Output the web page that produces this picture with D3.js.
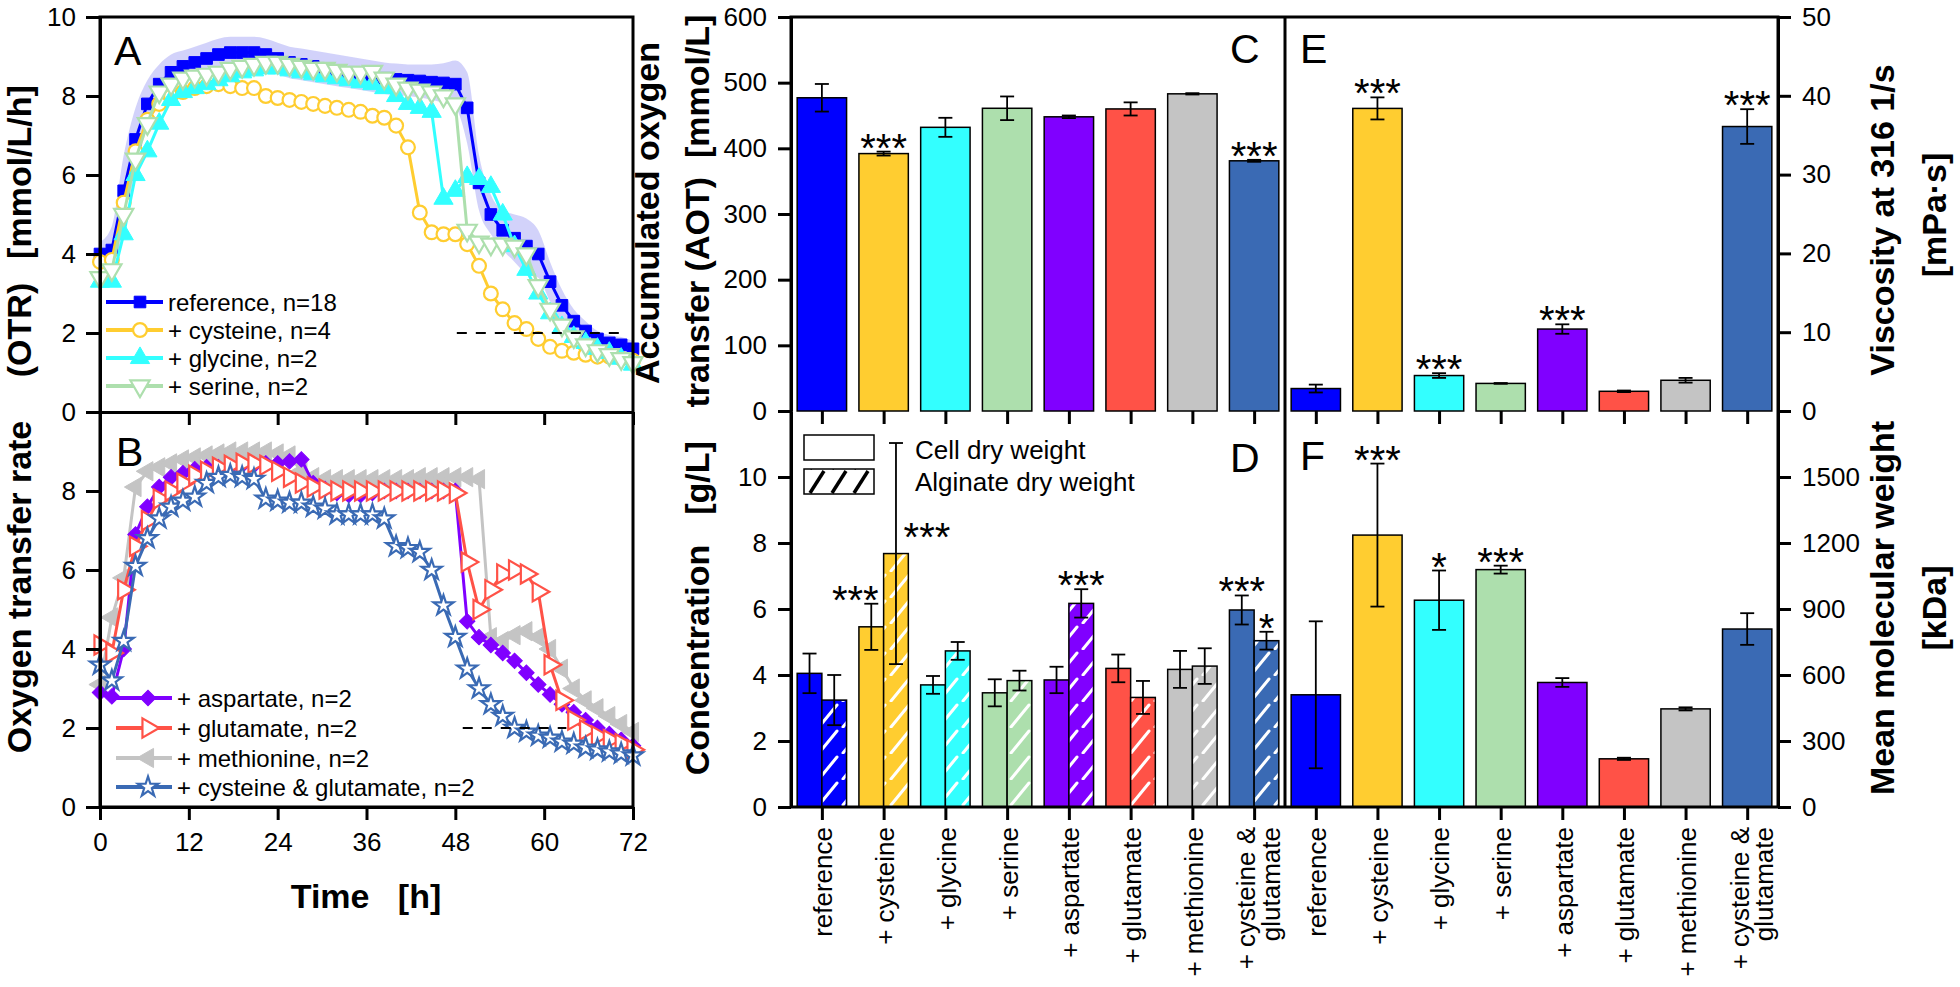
<!DOCTYPE html>
<html><head><meta charset="utf-8">
<script src="https://cdn.jsdelivr.net/npm/d3@7"></script>
<style>html,body{margin:0;padding:0;background:#fff;}svg{display:block;}</style>
</head><body>
<svg id="chart" width="1960" height="987"></svg>
<script>
// ---------------- DATA ----------------
const timeH = [0,1.6,3.2,4.8,6.4,8,9.6,11.2,12.8,14.4,16,17.6,19.2,20.8,22.4,24,25.6,27.2,28.8,30.4,32,33.6,35.2,36.8,38.4,40,41.6,43.2,44.8,46.4,48,49.6,51.2,52.8,54.4,56,57.6,59.2,60.8,62.4,64,65.6,67.2,68.8,70.4,72];
const timeTicks = [0,12,24,36,48,60,72];

const otrReference = [4.0,4.1,5.6,6.9,7.8,8.3,8.6,8.75,8.85,8.95, 9.05,9.1,9.1,9.1,9.05,8.95,8.85,8.8,8.75,8.7, 8.65,8.6,8.55,8.5,8.45,8.42,8.4,8.38,8.35,8.33, 8.3,7.7,5.8,5.0,4.6,4.4,4.2,4.0,3.3,2.7, 2.3,2.05,1.85,1.75,1.7,1.6];
const otrReferenceSd = [0.3,0.6,0.9,0.8,0.6,0.5,0.45,0.4,0.4,0.4, 0.4,0.4,0.4,0.4,0.4,0.4,0.4,0.4,0.4,0.4, 0.4,0.4,0.4,0.4,0.4,0.4,0.4,0.42,0.45,0.5, 0.6,0.9,0.7,0.5,0.5,0.6,0.7,0.6,0.5,0.4, 0.3,0.25,0.2,0.2,0.2,0.2];
const otrCysteine = [3.8,3.85,5.3,6.6,7.4,7.8,8.0,8.1,8.2,8.25, 8.3,8.25,8.2,8.2,8.0,7.95,7.9,7.85,7.8,7.75, 7.7,7.65,7.6,7.5,7.45,7.25,6.7,5.05,4.55,4.5, 4.5,4.25,3.7,3.0,2.6,2.25,2.1,1.85,1.65,1.55, 1.5,1.45,1.4,1.4,1.35,1.3];
const otrGlycine = [3.3,3.3,4.5,6.0,6.6,7.3,7.9,8.1,8.2,8.3, 8.4,8.5,8.6,8.65,8.7,8.7,8.65,8.6,8.55,8.5, 8.45,8.4,8.35,8.3,8.2,8.0,7.8,7.7,7.6,5.4, 5.6,5.95,5.9,5.7,5.0,4.2,3.6,3.0,2.5,2.15, 1.9,1.75,1.6,1.5,1.35,1.2];
const otrSerine = [3.4,3.6,5.0,6.4,7.3,8.1,8.3,8.45,8.5,8.55, 8.6,8.7,8.75,8.8,8.85,8.85,8.8,8.75,8.7,8.7, 8.65,8.6,8.6,8.62,8.45,8.3,8.2,8.15,8.1,8.0, 7.8,4.6,4.3,4.25,4.25,4.2,4.0,3.2,2.6,2.2, 1.9,1.7,1.55,1.45,1.35,1.25];

const otrAspartate = [2.9,2.8,4.0,6.9,7.6,8.1,8.35,8.45,8.55,8.6, 8.6,8.6,8.65,8.65,8.7,8.7,8.75,8.8,8.2,8.05, 7.95,7.9,7.9,7.95,8.0,8.0,8.0,8.0,8.0,8.0, 8.0,4.7,4.3,4.1,3.9,3.7,3.4,3.1,2.85,2.6, 2.4,2.2,2.0,1.85,1.7,1.55];
const otrGlutamate = [4.1,3.9,5.5,6.6,7.25,7.8,8.0,8.2,8.4,8.5, 8.6,8.65,8.7,8.7,8.65,8.5,8.35,8.2,8.1,8.05, 8.0,8.0,8.0,8.0,8.0,8.0,8.0,8.0,8.0,8.0, 7.95,6.2,5.0,5.5,5.9,6.0,5.9,5.45,3.6,2.7, 2.2,1.95,1.8,1.7,1.6,1.45];
const otrMethionine = [3.1,4.8,5.8,8.1,8.5,8.6,8.7,8.8,8.85,8.9, 8.95,9.0,9.0,9.0,9.0,8.95,8.9,8.5,8.35,8.3, 8.3,8.3,8.3,8.3,8.3,8.3,8.3,8.35,8.35,8.35, 8.35,8.35,8.3,4.3,4.2,4.35,4.45,4.3,4.0,3.5, 3.0,2.7,2.5,2.3,2.1,1.9];
const otrCysGlu = [3.6,3.2,4.2,6.1,6.8,7.3,7.6,7.75,7.85,8.2, 8.35,8.4,8.35,8.3,7.8,7.75,7.7,7.7,7.6,7.55, 7.4,7.4,7.4,7.4,7.3,6.6,6.55,6.45,6.0,5.1, 4.3,3.5,3.0,2.6,2.3,2.0,1.9,1.8,1.75,1.65, 1.6,1.5,1.45,1.4,1.35,1.3];

const dashedA = [48.2, 70.4];   // OTR = 2 reference line, panel A
const dashedB = [49.0, 63.0];   // panel B
const dashedLevel = 2;

const legendA = ["reference, n=18", "+ cysteine, n=4", "+ glycine, n=2", "+ serine, n=2"];
const legendB = ["+ aspartate, n=2", "+ glutamate, n=2", "+ methionine, n=2", "+ cysteine & glutamate, n=2"];

const categories = ["reference","+ cysteine","+ glycine","+ serine","+ aspartate","+ glutamate","+ methionine","+ cysteine & glutamate"];
const categoryLines = [["reference"],["+ cysteine"],["+ glycine"],["+ serine"],["+ aspartate"],["+ glutamate"],["+ methionine"],["+ cysteine &","glutamate"]];

const aotMean = [477, 392, 432, 461, 448, 460, 483, 381];
const aotErr  = [21, 3, 14.5, 18, 2, 10, 1, 1.5];
const aotSig  = ["", "***", "", "", "", "", "", "***"];

const viscMean = [2.85, 38.4, 4.5, 3.5, 10.4, 2.5, 3.9, 36.1];
const viscErr  = [0.5, 1.4, 0.3, 0.05, 0.6, 0.1, 0.3, 2.2];
const viscSig  = ["", "***", "***", "", "***", "", "", "***"];

const cdwMean = [4.05, 5.46, 3.70, 3.46, 3.85, 4.20, 4.17, 5.97];
const cdwErr  = [0.6, 0.7, 0.27, 0.41, 0.4, 0.42, 0.56, 0.44];
const cdwSig  = ["", "***", "", "", "", "", "", "***"];

const adwMean = [3.24, 7.68, 4.73, 3.83, 6.17, 3.32, 4.27, 5.04];
const adwErr  = [0.76, 3.35, 0.27, 0.30, 0.43, 0.5, 0.54, 0.27];
const adwSig  = ["", "***", "", "", "***", "", "", "*"];

const mwMean = [510, 1236, 940, 1079, 566, 219, 446, 809];
const mwErr  = [334, 325, 135, 18, 20, 5, 7, 72];
const mwSig  = ["", "***", "*", "***", "", "", "", ""];

const yTicksOTR_A = [0,2,4,6,8,10];
const yTicksOTR_B = [0,2,4,6,8];
const yTicksAOT = [0,100,200,300,400,500,600];
const yTicksVisc = [0,10,20,30,40,50];
const yTicksConc = [0,2,4,6,8,10];
const yTicksMW = [0,300,600,900,1200,1500];

// ---------------- STYLE ----------------
const FONT = '"Liberation Sans", Arial, Helvetica, sans-serif';
const colors = ["#0000ff","#ffcd30","#33ffff","#addfad","#8000ff","#ff5247","#c4c4c4","#3a6ab4"];

const svg = d3.select("#chart");
svg.append("rect").attr("width",1960).attr("height",987).attr("fill","#fff");
const defs = svg.append("defs");
const hw = defs.append("pattern").attr("id","hatchW").attr("patternUnits","userSpaceOnUse").attr("width",24).attr("height",26);
hw.append("line").attr("x1",3).attr("y1",25).attr("x2",21).attr("y2",3).attr("stroke","#fff").attr("stroke-width",3).attr("stroke-linecap","round");
const hk = defs.append("pattern").attr("id","hatchK").attr("patternUnits","userSpaceOnUse").attr("width",22).attr("height",24).attr("x",806).attr("y",470);
hk.append("line").attr("x1",4).attr("y1",23).attr("x2",18).attr("y2",1).attr("stroke","#000").attr("stroke-width",3.5);

// ---------------- SCALES ----------------
const xT = d3.scaleLinear().domain([0,72]).range([100,633]);
const yA = d3.scaleLinear().domain([0,10]).range([412,17]);
const yB = d3.scaleLinear().domain([0,10]).range([807,412]);
const xL = d3.scaleBand().domain(categories).range([791,1285]).paddingInner(0.2).paddingOuter(0.1);
const xR = d3.scaleBand().domain(categories).range([1285,1778]).paddingInner(0.2).paddingOuter(0.1);
const yC = d3.scaleLinear().domain([0,600]).range([411,17]);
const yE = d3.scaleLinear().domain([0,50]).range([411,17]);
const yD = d3.scaleLinear().domain([0,12]).range([807,411]);
const yF = d3.scaleLinear().domain([0,1800]).range([807,411]);

function styleAxis(g){
  g.select(".domain").attr("stroke","#000").attr("stroke-width",3);
  g.selectAll(".tick line").attr("stroke","#000").attr("stroke-width",3);
  g.selectAll(".tick text").attr("font-size",26).attr("font-family",FONT).attr("fill","#000");
}

// ---------------- PANELS A & B ----------------
const markerDefs = {
  square:{type:d3.symbolSquare,size:135,rot:0},
  circle:{type:d3.symbolCircle,size:150,rot:0},
  triUp:{type:d3.symbolTriangle,size:160,rot:0},
  triDown:{type:d3.symbolTriangle,size:160,rot:180},
  diamond:{type:d3.symbolSquare,size:120,rot:45},
  triRight:{type:d3.symbolTriangle,size:160,rot:90},
  triLeft:{type:d3.symbolTriangle,size:160,rot:-90},
  star:{type:d3.symbolStar,size:125,rot:0}
};
const seriesA = [
  {label:legendA[0], values:otrReference, color:colors[0], marker:"square", open:false},
  {label:legendA[1], values:otrCysteine, color:colors[1], marker:"circle", open:true},
  {label:legendA[2], values:otrGlycine, color:colors[2], marker:"triUp", open:false},
  {label:legendA[3], values:otrSerine, color:colors[3], marker:"triDown", open:true}
];
const seriesB = [
  {label:legendB[0], values:otrAspartate, color:colors[4], marker:"diamond", open:false},
  {label:legendB[1], values:otrGlutamate, color:colors[5], marker:"triRight", open:true},
  {label:legendB[2], values:otrMethionine, color:colors[6], marker:"triLeft", open:false},
  {label:legendB[3], values:otrCysGlu, color:colors[7], marker:"star", open:true}
];

function markerPath(m){ return d3.symbol().type(markerDefs[m].type).size(markerDefs[m].size)(); }

function drawSeries(g, s, yS){
  g.append("path").datum(s.values)
    .attr("d", d3.line().x((d,i)=>xT(timeH[i])).y(d=>yS(d)))
    .attr("fill","none").attr("stroke",s.color).attr("stroke-width",3).attr("stroke-linejoin","round");
  g.selectAll(null).data(s.values).join("path")
    .attr("d", markerPath(s.marker))
    .attr("transform",(d,i)=>`translate(${xT(timeH[i])},${yS(d)}) rotate(${markerDefs[s.marker].rot})`)
    .attr("fill", s.open ? "#fff" : s.color)
    .attr("stroke", s.color).attr("stroke-width", s.open ? 2.2 : 1);
}

const gA = svg.append("g");
// reference standard deviation band
gA.append("path").datum(otrReference)
  .attr("d", d3.area().x((d,i)=>xT(timeH[i])).y0((d,i)=>yA(d-otrReferenceSd[i])).y1((d,i)=>yA(d+otrReferenceSd[i])).curve(d3.curveMonotoneX))
  .attr("fill","#6a6aee").attr("opacity",0.3);
seriesA.forEach(s=>drawSeries(gA, s, yA));
gA.append("line").attr("x1",xT(dashedA[0])).attr("x2",xT(dashedA[1])).attr("y1",yA(dashedLevel)).attr("y2",yA(dashedLevel))
  .attr("stroke","#000").attr("stroke-width",2).attr("stroke-dasharray","10,9");

const gB = svg.append("g");
[seriesB[2], seriesB[0], seriesB[1], seriesB[3]].forEach(s=>drawSeries(gB, s, yB));
gB.append("line").attr("x1",xT(dashedB[0])).attr("x2",xT(dashedB[1])).attr("y1",yB(dashedLevel)).attr("y2",yB(dashedLevel))
  .attr("stroke","#000").attr("stroke-width",2).attr("stroke-dasharray","10,9");

function drawLegend(series, x0, x1, xm, xt, ys){
  series.forEach((s,i)=>{
    const y = ys[i];
    svg.append("line").attr("x1",x0).attr("x2",x1).attr("y1",y).attr("y2",y).attr("stroke",s.color).attr("stroke-width",4);
    svg.append("path").attr("d",markerPath(s.marker)).attr("transform",`translate(${xm},${y}) rotate(${markerDefs[s.marker].rot})`)
      .attr("fill", s.open?"#fff":s.color).attr("stroke",s.color).attr("stroke-width", s.open?2.2:1);
    svg.append("text").attr("x",xt).attr("y",y).attr("dy","0.36em").attr("font-family",FONT).attr("font-size",24).attr("fill","#000").text(s.label);
  });
}
drawLegend(seriesA, 106, 163, 140, 168, [302,330,358,386]);
drawLegend(seriesB, 116, 172, 148, 177, [698,728,758,787]);

// frames and axes A/B
svg.append("rect").attr("x",100).attr("y",17).attr("width",533).attr("height",790).attr("fill","none").attr("stroke","#000").attr("stroke-width",3);
svg.append("g").attr("transform","translate(100,0)").call(d3.axisLeft(yA).tickValues(yTicksOTR_A).tickSize(14).tickPadding(10).tickSizeOuter(0)).call(styleAxis);
svg.append("g").attr("transform","translate(100,0)").call(d3.axisLeft(yB).tickValues(yTicksOTR_B).tickSize(14).tickPadding(10).tickSizeOuter(0)).call(styleAxis);
svg.append("g").attr("transform","translate(0,412)").call(d3.axisBottom(xT).tickValues(timeTicks).tickSize(13).tickFormat("").tickSizeOuter(0)).call(styleAxis);
svg.append("g").attr("transform","translate(0,807)").call(d3.axisBottom(xT).tickValues(timeTicks).tickSize(13).tickPadding(13).tickSizeOuter(0)).call(styleAxis);

// ---------------- BAR PANELS ----------------
function errBars(g, xs, ys, means, errs, xoff, w){
  means.forEach((m,i)=>{
    const cx = xs(categories[i]) + xoff;
    const y1 = ys(m+errs[i]), y0 = ys(Math.max(0,m-errs[i]));
    g.append("line").attr("x1",cx).attr("x2",cx).attr("y1",y0).attr("y2",y1).attr("stroke","#000").attr("stroke-width",1.8);
    [y0,y1].forEach(yy=>g.append("line").attr("x1",cx-w/2).attr("x2",cx+w/2).attr("y1",yy).attr("y2",yy).attr("stroke","#000").attr("stroke-width",1.8));
  });
}
function sigText(g, x, y, s){
  if(!s) return;
  g.append("text").attr("x",x).attr("y",y).attr("text-anchor","middle").attr("font-family",FONT).attr("font-size",40).attr("fill","#000").text(s);
}

// C
const gC = svg.append("g");
gC.selectAll("rect").data(aotMean).join("rect")
  .attr("x",(d,i)=>xL(categories[i])).attr("width",xL.bandwidth())
  .attr("y",d=>yC(d)).attr("height",d=>yC(0)-yC(d))
  .attr("fill",(d,i)=>colors[i]).attr("stroke","#000").attr("stroke-width",1.5);
errBars(gC, xL, yC, aotMean, aotErr, xL.bandwidth()/2, 14);
aotSig.forEach((s,i)=>sigText(gC, xL(categories[i])+xL.bandwidth()/2, yC(aotMean[i]+aotErr[i])+10, s));

// E
const gE = svg.append("g");
gE.selectAll("rect").data(viscMean).join("rect")
  .attr("x",(d,i)=>xR(categories[i])).attr("width",xR.bandwidth())
  .attr("y",d=>yE(d)).attr("height",d=>yE(0)-yE(d))
  .attr("fill",(d,i)=>colors[i]).attr("stroke","#000").attr("stroke-width",1.5);
errBars(gE, xR, yE, viscMean, viscErr, xR.bandwidth()/2, 14);
viscSig.forEach((s,i)=>sigText(gE, xR(categories[i])+xR.bandwidth()/2, yE(viscMean[i]+viscErr[i])+10, s));

// D (grouped: cell dry weight solid, alginate dry weight hatched)
const gD = svg.append("g");
const half = xL.bandwidth()/2;
gD.append("rect").attr("x",804).attr("y",435).attr("width",70).attr("height",25).attr("fill","#fff").attr("stroke","#000").attr("stroke-width",1.5);
gD.append("rect").attr("x",804).attr("y",469).attr("width",70).attr("height",25).attr("fill","url(#hatchK)").attr("stroke","#000").attr("stroke-width",1.5);
gD.append("text").attr("x",915).attr("y",459).attr("font-family",FONT).attr("font-size",26).text("Cell dry weight");
gD.append("text").attr("x",915).attr("y",491).attr("font-family",FONT).attr("font-size",26).text("Alginate dry weight");

gD.selectAll(".cdw").data(cdwMean).join("rect").attr("class","cdw")
  .attr("x",(d,i)=>xL(categories[i])).attr("width",half)
  .attr("y",d=>yD(d)).attr("height",d=>yD(0)-yD(d))
  .attr("fill",(d,i)=>colors[i]).attr("stroke","#000").attr("stroke-width",1.5);
gD.selectAll(".adw").data(adwMean).join("rect").attr("class","adw")
  .attr("x",(d,i)=>xL(categories[i])+half).attr("width",half)
  .attr("y",d=>yD(d)).attr("height",d=>yD(0)-yD(d))
  .attr("fill",(d,i)=>colors[i]).attr("stroke","#000").attr("stroke-width",1.5);
gD.selectAll(".adwh").data(adwMean).join("rect").attr("class","adwh")
  .attr("x",(d,i)=>xL(categories[i])+half+1).attr("width",half-2)
  .attr("y",d=>yD(d)+1).attr("height",d=>yD(0)-yD(d)-2)
  .attr("fill","url(#hatchW)");
errBars(gD, xL, yD, cdwMean, cdwErr, half/2, 14);
errBars(gD, xL, yD, adwMean, adwErr, half*1.5, 14);
cdwSig.forEach((s,i)=>{
  const dx = (adwSig[i] && adwErr[i] > 2) ? -16 : 0;
  sigText(gD, xL(categories[i])+half/2+dx, yD(cdwMean[i]+cdwErr[i])+10, s);
});
adwSig.forEach((s,i)=>{
  if(!s) return;
  const cx = xL(categories[i])+half*1.5;
  if (adwErr[i] > 2) sigText(gD, cx+31, yD(adwMean[i])-3, s);   // long error bar: stars beside it
  else sigText(gD, cx, yD(adwMean[i]+adwErr[i])+10, s);
});

// F
const gF = svg.append("g");
gF.selectAll("rect").data(mwMean).join("rect")
  .attr("x",(d,i)=>xR(categories[i])).attr("width",xR.bandwidth())
  .attr("y",d=>yF(d)).attr("height",d=>yF(0)-yF(d))
  .attr("fill",(d,i)=>colors[i]).attr("stroke","#000").attr("stroke-width",1.5);
errBars(gF, xR, yF, mwMean, mwErr, xR.bandwidth()/2, 14);
mwSig.forEach((s,i)=>sigText(gF, xR(categories[i])+xR.bandwidth()/2, yF(mwMean[i]+mwErr[i])+10, s));

// frames and axes C-F
svg.append("rect").attr("x",791).attr("y",17).attr("width",987).attr("height",790).attr("fill","none").attr("stroke","#000").attr("stroke-width",3);
svg.append("line").attr("x1",1285).attr("x2",1285).attr("y1",17).attr("y2",807).attr("stroke","#000").attr("stroke-width",3);
svg.append("g").attr("transform","translate(791,0)").call(d3.axisLeft(yC).tickValues(yTicksAOT).tickSize(13).tickPadding(11).tickSizeOuter(0)).call(styleAxis);
svg.append("g").attr("transform","translate(791,0)").call(d3.axisLeft(yD).tickValues(yTicksConc).tickSize(13).tickPadding(11).tickSizeOuter(0)).call(styleAxis);
svg.append("g").attr("transform","translate(1778,0)").call(d3.axisRight(yE).tickValues(yTicksVisc).tickSize(13).tickPadding(11).tickSizeOuter(0)).call(styleAxis);
svg.append("g").attr("transform","translate(1778,0)").call(d3.axisRight(yF).tickValues(yTicksMW).tickFormat(d3.format("d")).tickSize(13).tickPadding(11).tickSizeOuter(0)).call(styleAxis);
[[xL,411],[xR,411],[xL,807],[xR,807]].forEach(([sc,y])=>{
  const ax = d3.axisBottom(d3.scalePoint().domain(categories).range([sc(categories[0])+sc.bandwidth()/2, sc(categories[7])+sc.bandwidth()/2]))
    .tickSize(13).tickFormat("").tickSizeOuter(0);
  const g = svg.append("g").attr("transform",`translate(0,${y})`).call(ax).call(styleAxis);
  g.select(".domain").remove();
});

// category labels
[xL, xR].forEach(sc=>{
  categories.forEach((c,i)=>{
    const cx = sc(c)+sc.bandwidth()/2;
    const lines = categoryLines[i];
    const t = svg.append("text").attr("transform",`translate(${cx},827) rotate(-90)`).attr("text-anchor","end")
      .attr("font-family",FONT).attr("font-size",26).attr("fill","#000");
    if (lines.length === 1) t.attr("dy","0.4em").text(lines[0]);
    else lines.forEach((ln,k)=>t.append("tspan").attr("x",0).attr("dy", k===0 ? "0.05em" : "0.95em").text(ln));
  });
});

// ---------------- TITLES ----------------
function vText(x, y, str, size){
  svg.append("text").attr("transform",`translate(${x},${y}) rotate(-90)`).attr("text-anchor","middle")
    .attr("font-family",FONT).attr("font-weight","bold").attr("font-size",size||34).attr("fill","#000")
    .style("white-space","pre").text(str);
}
vText(31, 587, "Oxygen transfer rate");
vText(31, 330, "(OTR)");
vText(31, 172, "[mmol/L/h]");
vText(659, 213, "Accumulated oxygen");
vText(709, 211, "transfer (AOT)  [mmol/L]");
vText(709, 660, "Concentration");
vText(709, 478, "[g/L]");
vText(1894, 220, "Viscosity at 316 1/s");
vText(1946, 215, "[mPa·s]");
vText(1894, 608, "Mean molecular weight");
vText(1946, 608, "[kDa]");
svg.append("text").attr("x",366).attr("y",908).attr("text-anchor","middle").attr("font-family",FONT).attr("font-weight","bold")
  .attr("font-size",34).style("white-space","pre").text("Time   [h]");

// panel letters
[["A",114,65],["B",116,466],["C",1230,63],["D",1230,472],["E",1300,63],["F",1300,470]].forEach(([l,x,y])=>{
  svg.append("text").attr("x",x).attr("y",y).attr("font-family",FONT).attr("font-size",41).attr("fill","#000").text(l);
});
</script>
</body></html>
